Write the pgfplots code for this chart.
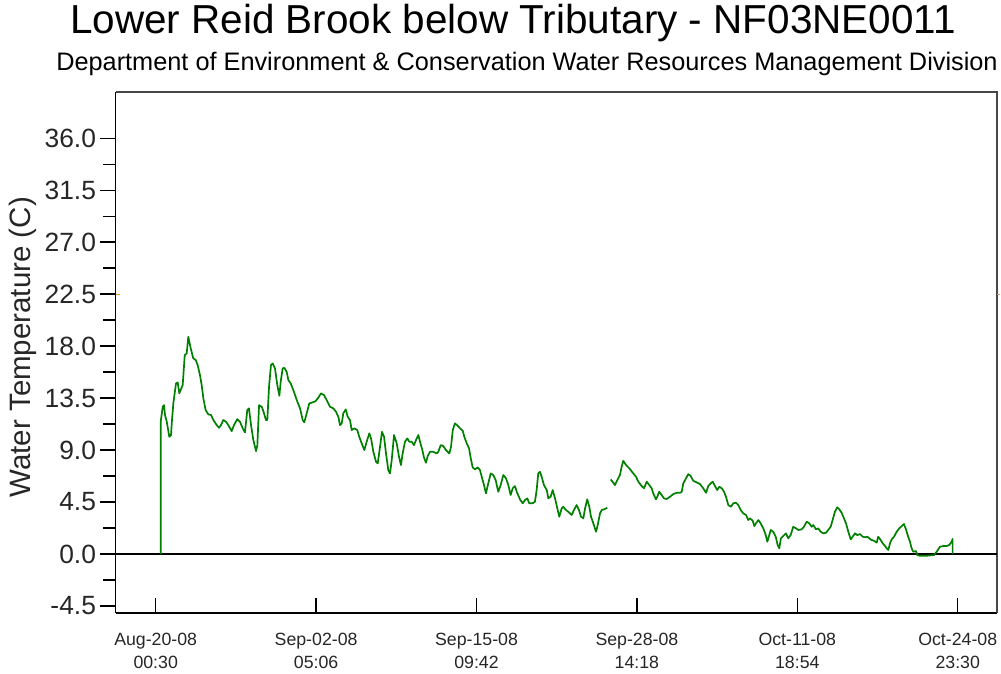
\documentclass[border=0pt]{standalone}
\usepackage{fontspec}
\setmainfont{Liberation Sans}
\usepackage{pgfplots}
\pgfplotsset{compat=1.18}

\definecolor{tracegreen}{RGB}{0,128,0}
\definecolor{framegray}{RGB}{70,70,70}
\definecolor{markorange}{RGB}{240,150,20}

\begin{document}
\begin{tikzpicture}[x=1bp,y=1bp]
\useasboundingbox (0,0) rectangle (1001,674);

% titles
\node[anchor=center, inner sep=0pt] at (513,651) {\fontsize{40.6}{44}\selectfont Lower Reid Brook below Tributary - NF03NE0011};
\node[anchor=center, inner sep=0pt] at (527,610) {\fontsize{25.4}{28}\selectfont Department of Environment \& Conservation Water Resources Management Division};

\begin{axis}[
  at={(115.5bp,61bp)}, anchor=south west,
  scale only axis,
  width=881.5bp, height=521bp,
  xmin=-3.306, xmax=69.19,
  ymin=-5.106, ymax=40,
  axis x line*=bottom,
  axis y line*=left,
  axis line style={black, line width=1.5bp},
  xtick={0,13.1917,26.3833,39.575,52.7667,65.9583},
  xticklabels={{Aug-20-08\\00:30},{Sep-02-08\\05:06},{Sep-15-08\\09:42},{Sep-28-08\\14:18},{Oct-11-08\\18:54},{Oct-24-08\\23:30}},
  xticklabel style={align=center, font=\fontsize{17.8}{22.5}\selectfont, text=black!85, yshift=-17bp},
  x tick style={black, line width=1.3bp},
  xtick align=inside,
  ytick={-4.5,0,4.5,9,13.5,18,22.5,27,31.5,36},
  minor y tick num=1,
  ytick align=outside,
  y tick style={black, line width=1.3bp},
  major tick length=15bp,
  minor tick length=12bp,
  yticklabel style={font=\fontsize{26.5}{29}\selectfont, text=black!85, xshift=-1bp},
  /pgf/number format/assume math mode=true,
  /pgf/number format/.cd, fixed, fixed zerofill, precision=1,
  /pgfplots/.cd,
  ylabel={Water Temperature (C)},
  every axis y label/.style={at={(axis description cs:-0.1055,0.51)}, rotate=90, anchor=center, font=\fontsize{29.6}{32}\selectfont, text=black!85},
  clip=false,
]

% frame on top and right
\draw[framegray, line width=1.3bp] (rel axis cs:0,1) -- (rel axis cs:1,1) -- (rel axis cs:1,0);
% zero reference line
\draw[black, line width=1.5bp] ({rel axis cs:0,0} |- {axis cs:0,0}) -- ({rel axis cs:1,0} |- {axis cs:0,0});
% small orange markers at 22.5
\draw[markorange, line width=1bp] ({rel axis cs:0,0} |- {axis cs:0,22.5}) -- ++(4bp,0bp);
\draw[markorange, line width=1bp] ({rel axis cs:1,0} |- {axis cs:0,22.5}) -- ++(3bp,0bp);

% water temperature, first logging segment
\addplot[tracegreen, line width=1.7bp, line join=round] coordinates {
(0.41,0) (0.41,11.45) (0.58,12.75) (0.68,12.89) (0.77,12.03) (0.91,11.45) (1.12,10.15) (1.26,10.30)
(1.32,11.31) (1.45,13.04) (1.67,14.77) (1.81,14.86) (1.94,13.91) (2.22,14.63) (2.39,17.22) (2.55,17.37)
(2.68,18.81) (2.88,17.80) (3.09,16.94) (3.29,16.80) (3.45,16.36) (3.64,15.49) (3.78,14.63) (3.92,13.47)
(4.11,12.46) (4.33,12.09) (4.55,12.03) (4.74,11.60) (5.02,11.16) (5.21,10.93) (5.37,11.16) (5.56,11.60)
(5.78,11.45) (5.97,11.16) (6.25,10.64) (6.44,11.16) (6.71,11.68) (6.93,11.45) (7.16,10.88) (7.34,10.53)
(7.53,12.46) (7.67,12.61) (7.84,11.16) (8.03,9.87) (8.25,8.91) (8.36,9.43) (8.50,12.89) (8.72,12.75)
(8.85,12.38) (9.07,11.60) (9.18,11.60) (9.32,14.48) (9.48,16.36) (9.62,16.50) (9.81,16.07) (10.00,14.63)
(10.17,13.70) (10.28,14.91) (10.44,16.07) (10.58,16.12) (10.77,15.78) (10.91,15.06) (11.10,14.77) (11.32,14.19)
(11.60,13.33) (11.87,12.61) (12.09,11.60) (12.22,11.40) (12.42,12.18) (12.63,13.04) (12.91,13.13) (13.16,13.24)
(13.37,13.53) (13.59,13.91) (13.84,13.76) (14.06,13.33) (14.33,12.75) (14.61,12.61) (14.83,12.31) (15.02,11.88)
(15.16,11.16) (15.30,11.31) (15.43,12.18) (15.63,12.52) (15.79,11.88) (15.98,11.60) (16.12,10.73) (16.33,10.88)
(16.58,10.73) (16.74,10.15) (16.94,9.58) (17.16,9.00) (17.35,9.72) (17.57,10.45) (17.71,10.01) (17.90,8.85)
(18.12,7.99) (18.26,7.85) (18.45,9.29) (18.61,10.58) (18.78,10.15) (18.94,8.71) (19.13,7.27) (19.27,6.98)
(19.41,8.13) (19.60,10.30) (19.82,9.58) (20.01,8.42) (20.17,7.70) (20.31,8.71) (20.50,9.72) (20.69,10.01)
(20.86,9.72) (21.05,9.72) (21.24,9.43) (21.41,9.87) (21.60,10.30) (21.74,9.72) (21.93,9.00) (22.06,8.37)
(22.23,7.90) (22.37,8.48) (22.56,8.85) (22.83,8.85) (23.11,8.71) (23.24,8.85) (23.44,9.43) (23.65,9.35)
(23.87,9.00) (24.15,8.71) (24.29,9.29) (24.43,10.73) (24.61,11.31) (24.84,11.10) (25.03,10.88) (25.25,10.67)
(25.38,10.15) (25.58,9.58) (25.77,9.15) (25.91,8.28) (26.07,7.50) (26.26,7.33) (26.48,7.50) (26.67,7.27)
(26.81,6.69) (27.00,5.97) (27.16,5.25) (27.35,6.12) (27.55,6.98) (27.76,6.84) (27.96,6.40) (28.17,5.39)
(28.37,5.97) (28.59,6.84) (28.81,6.55) (29.00,5.97) (29.19,5.11) (29.36,5.69) (29.55,5.88) (29.69,5.39)
(29.96,4.73) (30.18,4.39) (30.37,4.67) (30.56,4.82) (30.72,4.39) (31.00,4.39) (31.19,4.53) (31.33,5.54)
(31.46,6.98) (31.60,7.12) (31.74,6.69) (31.93,5.97) (32.16,5.54) (32.29,4.82) (32.48,4.96) (32.65,5.54)
(32.84,4.82) (33.03,3.95) (33.19,3.23) (33.39,3.95) (33.52,4.09) (33.74,3.81) (33.93,3.66) (34.21,3.38)
(34.40,3.81) (34.62,4.24) (34.81,3.81) (34.98,3.23) (35.17,3.09) (35.31,3.95) (35.49,4.73) (35.66,4.09)
(35.80,3.23) (35.99,2.66) (36.21,1.93) (36.35,2.51) (36.54,3.52) (36.68,3.81) (36.87,3.87) (37.14,4.01)
};

% water temperature, second logging segment
\addplot[tracegreen, line width=1.7bp, line join=round] coordinates {
(37.42,6.46) (37.63,6.17) (37.77,5.97) (37.96,6.40) (38.18,6.84) (38.32,7.55) (38.45,8.07) (38.68,7.70)
(38.95,7.42) (39.23,7.04) (39.50,6.69) (39.69,6.26) (39.97,5.88) (40.16,5.69) (40.38,6.26) (40.59,5.97)
(40.79,5.69) (40.92,5.25) (41.14,4.73) (41.25,4.96) (41.41,5.39) (41.61,5.11) (41.80,4.82) (42.02,4.76)
(42.30,4.96) (42.57,5.19) (42.85,5.30) (43.12,5.30) (43.26,5.39) (43.39,6.12) (43.61,6.55) (43.80,6.92)
(44.00,6.75) (44.21,6.34) (44.49,6.20) (44.76,6.06) (45.03,5.69) (45.26,5.30) (45.44,5.88) (45.64,6.12)
(45.81,6.26) (46.00,5.88) (46.18,5.54) (46.35,5.82) (46.55,5.69) (46.74,5.39) (46.90,4.96) (47.09,4.24)
(47.31,4.09) (47.50,4.39) (47.72,4.44) (47.91,4.24) (48.11,3.81) (48.32,3.52) (48.55,3.38) (48.73,2.94)
(48.87,3.09) (49.10,2.88) (49.23,2.42) (49.37,2.66) (49.56,2.94) (49.75,2.66) (49.97,2.22) (50.17,1.64)
(50.30,1.06) (50.46,1.64) (50.58,2.08) (50.79,1.93) (50.99,1.50) (51.15,0.78) (51.28,0.49) (51.42,1.36)
(51.61,1.56) (51.83,1.79) (52.02,1.36) (52.22,1.64) (52.43,2.36) (52.66,2.22) (52.85,2.08) (53.13,2.14)
(53.31,2.36) (53.54,2.80) (53.75,2.66) (53.95,2.36) (54.08,2.51) (54.30,2.14) (54.49,2.22) (54.69,1.93)
(54.90,1.79) (55.12,1.84) (55.31,2.08) (55.51,2.36) (55.67,2.94) (55.86,3.66) (56.05,4.04) (56.22,3.87)
(56.41,3.57) (56.60,3.09) (56.77,2.66) (56.96,1.93) (57.16,1.27) (57.32,1.50) (57.51,1.79) (57.70,1.64)
(57.92,1.73) (58.14,1.50) (58.33,1.45) (58.52,1.50) (58.68,1.36) (58.88,1.21) (59.07,1.15) (59.29,0.98)
(59.42,1.50) (59.62,1.21) (59.79,0.93) (59.98,0.69) (60.12,0.49) (60.25,0.35) (60.39,0.93) (60.53,1.27)
(60.72,1.50) (60.94,1.93) (61.15,2.22) (61.35,2.42) (61.54,2.60) (61.70,2.14) (61.84,1.64) (62.03,1.06)
(62.17,0.49) (62.30,0.20) (62.53,0.26) (62.63,-0.09) (62.85,-0.15) (63.41,-0.15) (64.01,-0.09) (64.23,0.20)
(64.50,0.63) (64.77,0.69) (65.05,0.69) (65.26,0.78) (65.46,1.06) (65.54,1.30) (65.54,0)
};

\end{axis}
\end{tikzpicture}
\end{document}
